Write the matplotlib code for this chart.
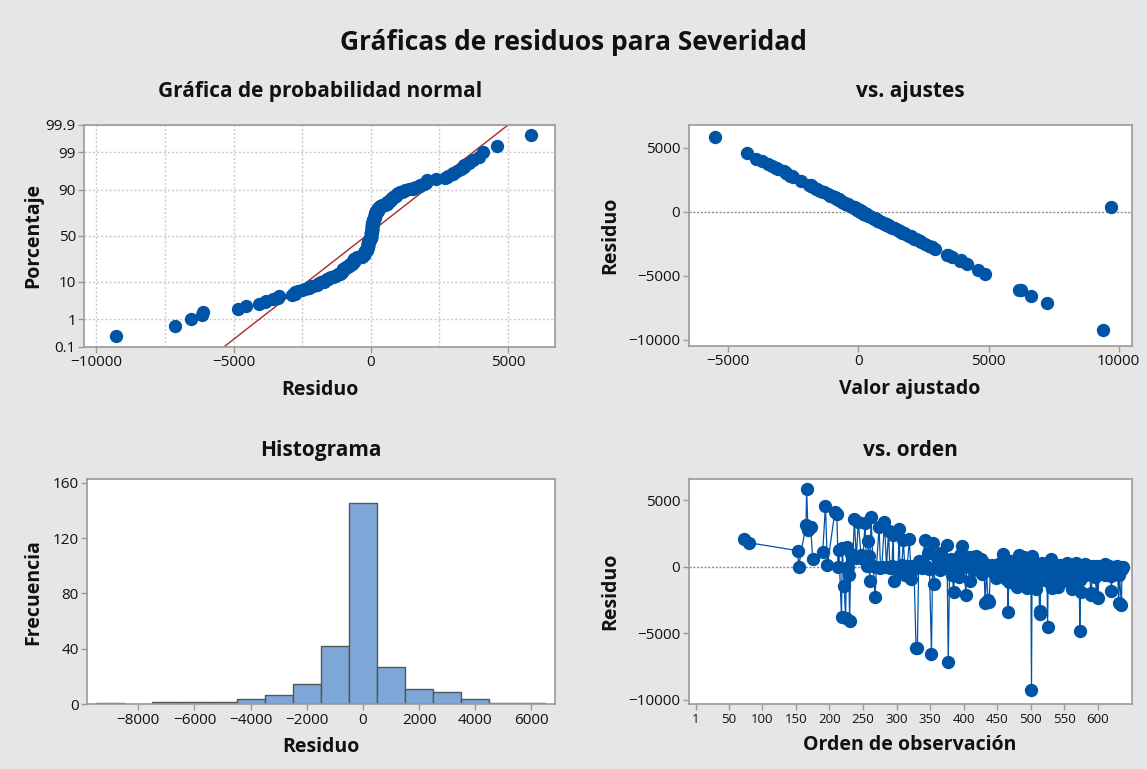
import numpy as np
import matplotlib
matplotlib.use("Agg")
import matplotlib.pyplot as plt
from matplotlib.ticker import FixedLocator, MultipleLocator
from statistics import NormalDist

plt.rcParams['font.family'] = ['Open Sans', 'DejaVu Sans']

# Observation number, residual and observed severity for each row of the model
orden = [
    72, 80, 153, 154, 165, 166, 168, 172, 175, 190,
    194, 197, 208, 211, 213, 214, 218, 219, 222, 224,
    226, 227, 229, 230, 232, 235, 237, 240, 243, 247,
    250, 253, 255, 256, 258, 259, 260, 262, 265, 268,
    270, 274, 276, 278, 282, 285, 288, 290, 293, 295,
    296, 300, 302, 304, 305, 308, 310, 313, 316, 319,
    321, 322, 326, 329, 331, 333, 335,
    338, 342, 344, 347, 349, 352, 354, 356, 358, 361,
    364, 366, 369, 372, 375, 377, 379, 381, 383, 385,
    387, 389, 391, 393, 395, 397, 399, 401, 403, 405,
    407, 409, 411, 412, 414, 416, 418, 420, 422, 424,
    426, 428, 430, 432, 434, 436, 438, 440, 442, 444,
    446, 448, 450,
    452, 453, 454, 455, 456, 457, 458, 459, 460, 461,
    462, 463, 464, 465, 466, 467, 468, 469, 470, 471,
    472, 473, 474, 475, 476, 477, 478, 479, 480, 481,
    482, 483, 484, 485, 486, 487, 488, 489, 490, 491,
    492, 493, 494, 495, 496, 497, 498, 499, 500,
    501, 502, 503, 504, 505, 506, 507, 508, 509, 510,
    511, 512, 513, 514, 515, 516, 517, 518, 519, 520,
    521, 522, 523, 524, 525, 526, 527, 528, 529, 530,
    531, 532, 533, 534, 535, 536, 537, 538, 539, 541,
    542, 543, 544, 545, 546, 548, 549, 550,
    551, 553, 554, 556, 559, 560, 561, 563, 564, 566,
    567, 569, 572, 573, 574, 575, 577, 578, 580, 582,
    585, 586, 588, 589, 590, 592, 593, 595, 596, 598,
    599, 600, 602, 604, 605, 607, 608, 610, 611, 613,
    614, 616, 617, 619, 620, 622, 623, 625, 626, 628,
    629, 631, 632, 635, 636, 638,
]

residuo = [
    2057, 1806, 1205, 0, 3140, 5830, 2760, 3010, 580, 1130,
    4590, 120, 4100, 3950, -50, 1260, -3810, 1385, -1450, -3850,
    1520, 0, -625, -4090, 950, 750, 3560, 680, 3390, 900,
    600, 3300, 630, 60, 1935, 780, -1050, 3720, 90, -2260,
    0, 3010, -90, 0, 3390, -50, 2700, -120, 50, 2383,
    -1055, 0, -250, 2820, -40, 150, 2010, -600, 90, 2060,
    40, -950, -150, -6150, -6100, 400, 150,
    -90, 2010, 20, 1055, -150, -6570, 1800, -1300, 800, 90,
    -250, 1000, 150, 0, 1630, -7150, -220, 600, -600, -1930,
    90, 330, -150, -800, 880, 1550, -40, 250, -2130, 90,
    700, -1050, 0, 700, -250, 150, 800, 520, -90, 40,
    600, -520, 250, -2760, -120, -2510, -2650, 90, 150, -400,
    60, -870, 40,
    90, -150, 250, -700, 40, 150, -60, 955, 330, -250,
    120, -900, 0, 200, -3400, -1120, 60, -120, 400, -600,
    40, -20, 150, -1200, 90, -200, 280, 0, -1550, 120,
    -60, 900, -800, 200, -330, 40, 250, -1000, 700, -90,
    150, -1300, 20, -1600, 90, -200, 330, -700, 60,
    -9280, 830, -90, 150, -600, 40, -1700, 120, -250, 0,
    200, -1100, -3560, -3350, 90, -150, 250, -800, 20, -60,
    150, -1000, 60, -330, -4560, 40, -120, -1250, 200, 600,
    -40, -1631, 90, -700, 0, 120, -200, -900, 40, -1520,
    -90, 150, -600, 20, -250, -1100, 90, -1004,
    40, -150, 250, -700, -330, 90, -1706, -1380, 40, -90,
    300, -900, -200, -4840, -1010, -1882, 60, -120, 200, -600,
    -150, 40, 0, -2100, -1957, -250, 60, -90, -800, -2250,
    20, -2383, -150, 0, 40, -520, -60, 200, -650, -150,
    20, -330, 40, -700, -1806, -120, 0, -550, -90, 40,
    -200, -2760, -600, -2885, -150, 0,
]

severidad = [
    250, 220, 180, 150, 260, 300, 200, 240, 160, 210,
    290, 140, 180, 250, 90, 170, 120, 230, 80, 60,
    200, 110, 100, 90, 190, 130, 230, 170, 210, 150,
    120, 190, 140, 100, 200, 160, 70, 260, 130, 110,
    80, 220, 90, 120, 240, 100, 180, 70, 110, 170,
    90, 130, 60, 200, 100, 140, 190, 80, 120, 160,
    100, 70, 90, 100, 80, 150, 110,
    90, 180, 120, 150, 80, 40, 170, 60, 140, 110,
    70, 160, 130, 100, 150, 110, 80, 130, 90, 70,
    120, 140, 90, 60, 150, 170, 100, 130, 80, 110,
    140, 70, 100, 150, 80, 120, 140, 130, 90, 110,
    120, 80, 130, 50, 90, 60, 70, 110, 120, 70,
    100, 80, 110,
    120, 80, 150, 60, 100, 130, 90, 170, 140, 70,
    110, 50, 100, 130, 40, 60, 100, 80, 10100, 70,
    100, 90, 120, 50, 110, 80, 140, 100, 40, 120,
    90, 160, 60, 130, 70, 100, 140, 50, 150, 90,
    120, 50, 100, 40, 110, 80, 140, 60, 100,
    120, 150, 90, 130, 70, 100, 50, 120, 80, 100,
    130, 60, 40, 60, 110, 80, 140, 60, 100, 90,
    130, 60, 110, 70, 30, 100, 80, 50, 130, 140,
    90, 60, 110, 70, 100, 120, 80, 60, 100, 50,
    90, 120, 70, 100, 80, 60, 110, 60,
    100, 80, 130, 60, 70, 110, 40, 50, 100, 90,
    140, 60, 80, 20, 60, 50, 110, 90, 130, 70,
    90, 100, 110, 40, 50, 80, 110, 90, 60, 40,
    100, 30, 80, 100, 110, 70, 90, 120, 60, 80,
    100, 70, 110, 60, 40, 90, 100, 60, 90, 100,
    80, 50, 70, 40, 90, 100,
]

porcentajes = [0.1, 1, 10, 50, 90, 99, 99.9]
etiquetas_pct = ['0.1', '1', '10', '50', '90', '99', '99.9']

BG = '#e6e6e6'
AZUL = '#0054a6'
SPINE = '#9a9a9a'
GRID = '#c8c8c8'
TXT = '#111111'

res = np.asarray(residuo, dtype=float)
obs = np.asarray(severidad, dtype=float)
idx = np.asarray(orden, dtype=float)
ajustado = obs - res
n = res.size

nd = NormalDist()

fig = plt.figure(figsize=(11.47, 7.69), dpi=100, facecolor=BG)
W, H = 1147.0, 769.0
MS = 92


def make_axes(left, top, right, bottom):
    return fig.add_axes([left / W, 1 - bottom / H, (right - left) / W, (bottom - top) / H])


def style(ax):
    ax.set_facecolor('white')
    for s in ax.spines.values():
        s.set_color(SPINE)
        s.set_linewidth(1.2)
    ax.tick_params(direction='out', length=4, width=1, color=SPINE,
                   labelsize=11, labelcolor=TXT, pad=2)


def labels(ax, xl, yl, xoff, yoff):
    bbox = ax.get_position()
    wpx, hpx = bbox.width * W, bbox.height * H
    ax.set_xlabel(xl, fontsize=14, fontweight='bold', color=TXT, va='center')
    ax.xaxis.set_label_coords(0.5, -xoff / hpx)
    ax.set_ylabel(yl, fontsize=14, fontweight='bold', color=TXT, va='center', ha='center')
    ax.yaxis.set_label_coords(-yoff / wpx, 0.5)


def subtitle(x, y, text):
    fig.text(x / W, 1 - y / H, text, ha='center', va='center',
             fontsize=15, fontweight='bold', color=TXT)


fig.text(0.5, 1 - 42 / H, 'Gráficas de residuos para Severidad', ha='center', va='center',
         fontsize=19, fontweight='bold', color=TXT)

# --- Normal probability plot ---
ax1 = make_axes(84.3, 125, 555, 346.7)
style(ax1)
orden_res = np.sort(res)
p = (np.arange(1, n + 1) - 0.3) / (n + 0.4)
zq = np.array([nd.inv_cdf(q) for q in p])
zlim = nd.inv_cdf(0.999)
ax1.set_ylim(-zlim, zlim)
ax1.set_xlim(-10440, 6710)
ax1.yaxis.set_major_locator(FixedLocator([nd.inv_cdf(v / 100) for v in porcentajes]))
ax1.set_yticklabels(etiquetas_pct)
ax1.xaxis.set_major_locator(MultipleLocator(5000))
ax1.xaxis.set_minor_locator(MultipleLocator(2500))
ax1.tick_params(axis='x', which='minor', length=0)
ax1.grid(True, which='both', color=GRID, linestyle=(0, (1.5, 1.5)), linewidth=1)
ax1.set_axisbelow(True)
media, desv = res.mean(), res.std(ddof=1)
zz = np.array([-zlim, zlim])
ax1.plot(media + desv * zz, zz, color='#a52a2a', lw=1.0, zorder=2)
ax1.scatter(orden_res, zq, s=MS, color=AZUL, zorder=3, linewidths=0)
labels(ax1, 'Residuo', 'Porcentaje', 43, 51)
subtitle(320, 92, 'Gráfica de probabilidad normal')

# --- Residuals versus fits ---
ax2 = make_axes(688.5, 125, 1131.5, 346)
style(ax2)
ax2.set_xlim(-6530, 10490)
ax2.set_ylim(-10500, 6770)
ax2.xaxis.set_major_locator(MultipleLocator(5000))
ax2.yaxis.set_major_locator(MultipleLocator(5000))
ax2.axhline(0, color='#8c8c8c', linestyle=(0, (1.5, 1.2)), lw=1, zorder=1)
ax2.scatter(ajustado, res, s=MS, color=AZUL, zorder=3, linewidths=0)
labels(ax2, 'Valor ajustado', 'Residuo', 43, 78)
subtitle(910, 92, 'vs. ajustes')

# --- Histogram ---
ax3 = make_axes(87.2, 479.3, 555, 704.3)
style(ax3)
bordes = np.arange(-9500, 7500, 1000)
ax3.hist(res, bins=bordes, color='#7ea7d8', edgecolor='#555555', linewidth=1.0, zorder=2)
ax3.set_xlim(-9820, 6840)
ax3.set_ylim(0, 162.4)
ax3.xaxis.set_major_locator(MultipleLocator(2000))
ax3.yaxis.set_major_locator(MultipleLocator(40))
labels(ax3, 'Residuo', 'Frecuencia', 43, 54)
subtitle(321, 450, 'Histograma')

# --- Residuals versus order ---
ax4 = make_axes(688.5, 479.3, 1131.5, 704.3)
style(ax4)
ax4.set_xlim(-10, 650)
ax4.set_ylim(-10360, 6580)
ax4.xaxis.set_major_locator(FixedLocator([1] + list(range(50, 601, 50))))
ax4.yaxis.set_major_locator(MultipleLocator(5000))
ax4.tick_params(axis='x', labelsize=9.5)
ax4.axhline(0, color='#8c8c8c', linestyle=(0, (1.5, 1.2)), lw=1, zorder=1)
ax4.plot(idx, res, color=AZUL, lw=0.9, zorder=2)
ax4.scatter(idx, res, s=MS, color=AZUL, zorder=3, linewidths=0)
labels(ax4, 'Orden de observación', 'Residuo', 41, 78)
subtitle(910, 450, 'vs. orden')

fig.savefig('out.png', dpi=100, facecolor=BG)
